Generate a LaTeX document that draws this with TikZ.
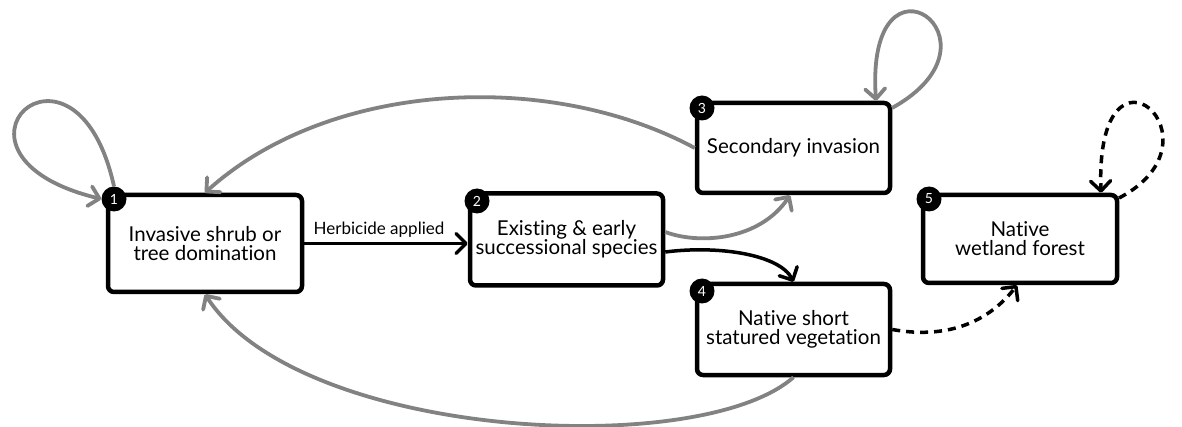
\documentclass[tikz,border=0pt]{standalone}
\usepackage{fontspec}
\setmainfont{Lato}[Ligatures=NoCommon]
\usetikzlibrary{arrows.meta}
\definecolor{edgegray}{RGB}{130,130,130}
\tikzset{
  statebox/.style={draw=black, line width=4.5pt, rounded corners=6pt, fill=white, align=center,
    font=\fontsize{20.5}{19}\selectfont, inner sep=0pt},
  badge/.style={circle, fill=black, text=white, minimum size=25pt, inner sep=0pt,
    font=\fontsize{14}{14}\selectfont},
  tip/.style={-{Straight Barb[length=10pt,width=20pt,line cap=round,line join=round]}},
  grayarrow/.style={tip, draw=edgegray, line width=3.8pt},
  blackarrow/.style={tip, draw=black, line width=3.5pt},
  dasharrow/.style={tip, draw=black, line width=3.5pt, dash pattern=on 8pt off 6pt},
  lbl/.style={font=\fontsize{17}{17}\selectfont}
}
\begin{document}
\begin{tikzpicture}[x=1pt,y=-1pt]
\useasboundingbox (0,0) rectangle (1182,427);
\node[statebox, minimum width=194pt, minimum height=97pt] (s1) at (205,243.5) {Invasive shrub or\\tree domination};
\node[statebox, minimum width=193pt, minimum height=92pt] (s2) at (566.5,239.5) {Existing \& early\\successional species};
\node[statebox, minimum width=193pt, minimum height=90pt] (s3) at (793.5,148) {Secondary invasion};
\node[statebox, minimum width=193pt, minimum height=91pt] (s4) at (793.5,329.5) {Native short\\statured vegetation};
\node[statebox, minimum width=194pt, minimum height=88pt] (s5) at (1020,239) {Native\\wetland forest};
\node[badge] (b1) at (114,199) {1};
\node[badge] (b2) at (477,201) {2};
\node[badge] (b3) at (702,108) {3};
\node[badge] (b4) at (702,291) {4};
\node[badge] (b5) at (929,199) {5};
% self loops
\draw[grayarrow] (b1.north) .. controls (75,10) and (-80,155) .. (b1.west);
\coordinate (l3a) at (892,108);
\draw[grayarrow] (l3a) .. controls (1015,40) and (865,-65) .. (s3.north -| 876,0);
\coordinate (l5a) at (1119,198);
\draw[dasharrow] (l5a) .. controls (1230,140) and (1095,20) .. (s5.north -| 1101,0);
% transitions
\draw[blackarrow] (s1.east) -- node[lbl, above=1pt, xshift=-7pt] {Herbicide applied} (s1.east -| s2.west);
\draw[grayarrow] (s3.west) .. controls (550,70) and (330,80) .. (s1.north);
\draw[grayarrow] (s2.east |- 0,232) .. controls (700,245) and (760,240) .. (s3.south -| 790,0);
\draw[blackarrow] (s2.east |- 0,252) .. controls (720,245) and (780,255) .. (s4.north);
\draw[dasharrow] (s4.east) .. controls (950,340) and (990,320) .. (s5.south -| 1017,0);
\draw[grayarrow] (s4.south) .. controls (700,460) and (300,440) .. (s1.south);
\end{tikzpicture}
\end{document}
